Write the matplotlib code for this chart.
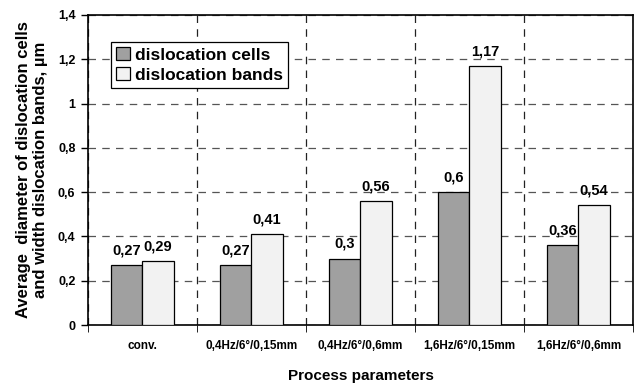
import numpy as np
import matplotlib
matplotlib.use('Agg')
import matplotlib.pyplot as plt

plt.rcParams['font.family'] = ['Liberation Sans', 'DejaVu Sans']
plt.rcParams['font.weight'] = 'bold'

categories = ['conv.', '0,4Hz/6°/0,15mm', '0,4Hz/6°/0,6mm', '1,6Hz/6°/0,15mm', '1,6Hz/6°/0,6mm']
cells = [0.27, 0.27, 0.30, 0.60, 0.36]
bands = [0.29, 0.41, 0.56, 1.17, 0.54]
cell_labels = ['0,27', '0,27', '0,3', '0,6', '0,36']
band_labels = ['0,29', '0,41', '0,56', '1,17', '0,54']
yticks = [0, 0.2, 0.4, 0.6, 0.8, 1.0, 1.2, 1.4]
ytick_labels = ['0', '0,2', '0,4', '0,6', '0,8', '1', '1,2', '1,4']

fig = plt.figure(figsize=(6.4, 3.84), dpi=100)
ax = fig.add_axes([0.1375, 0.1536, 0.8515, 0.8074])

x = np.arange(len(categories))
w = 0.285
ax.bar(x - w / 2, cells, w, color='#a0a0a0', edgecolor='black', linewidth=0.9,
       label='dislocation cells', zorder=3)
ax.bar(x + w / 2, bands, w, color='#f2f2f2', edgecolor='black', linewidth=0.9,
       label='dislocation bands', zorder=3)

for i in range(len(categories)):
    ax.text(x[i] - w / 2, cells[i] + 0.035, cell_labels[i], ha='center', va='bottom',
            fontsize=10.5, fontweight='bold')
    ax.text(x[i] + w / 2, bands[i] + 0.035, band_labels[i], ha='center', va='bottom',
            fontsize=10.5, fontweight='bold')

ax.set_xlim(-0.5, len(categories) - 0.5)
ax.set_ylim(0, 1.4)
ax.set_yticks(yticks)
ax.set_yticklabels(ytick_labels, fontsize=9, fontweight='bold')
ax.set_xticks(x)
ax.set_xticklabels(categories, fontsize=8.5, fontweight='bold')
ax.tick_params(axis='x', which='major', length=0, pad=11)
ax.set_xticks(np.arange(-0.5, len(categories)), minor=True)
ax.tick_params(axis='x', which='minor', length=5, direction='out')
ax.tick_params(axis='y', length=5, direction='out', width=1, pad=4)

ax.yaxis.grid(True, linestyle=(0, (6, 5)), color='#555555', linewidth=0.9, zorder=0)
ax.xaxis.grid(True, which='minor', linestyle=(0, (6, 5)), color='#222222', linewidth=0.9, zorder=0)

for s in ax.spines.values():
    s.set_linewidth(1.2)

ax.set_ylabel('Average  diameter of dislocation cells\nand width dislocation bands, µm',
              fontsize=12, fontweight='bold', labelpad=7, linespacing=1.2)
ax.set_xlabel('Process parameters', fontsize=11, fontweight='bold', labelpad=12)

leg = ax.legend(loc='upper left', bbox_to_anchor=(0.042, 0.913), fontsize=12.5,
                frameon=True, fancybox=False, edgecolor='black', framealpha=1,
                handlelength=0.8, handleheight=0.8, handletextpad=0.3,
                borderpad=0.3, labelspacing=0.25, borderaxespad=0)
leg.get_frame().set_linewidth(0.9)
for t in leg.get_texts():
    t.set_fontweight('bold')

fig.savefig('out.png', dpi=100)
